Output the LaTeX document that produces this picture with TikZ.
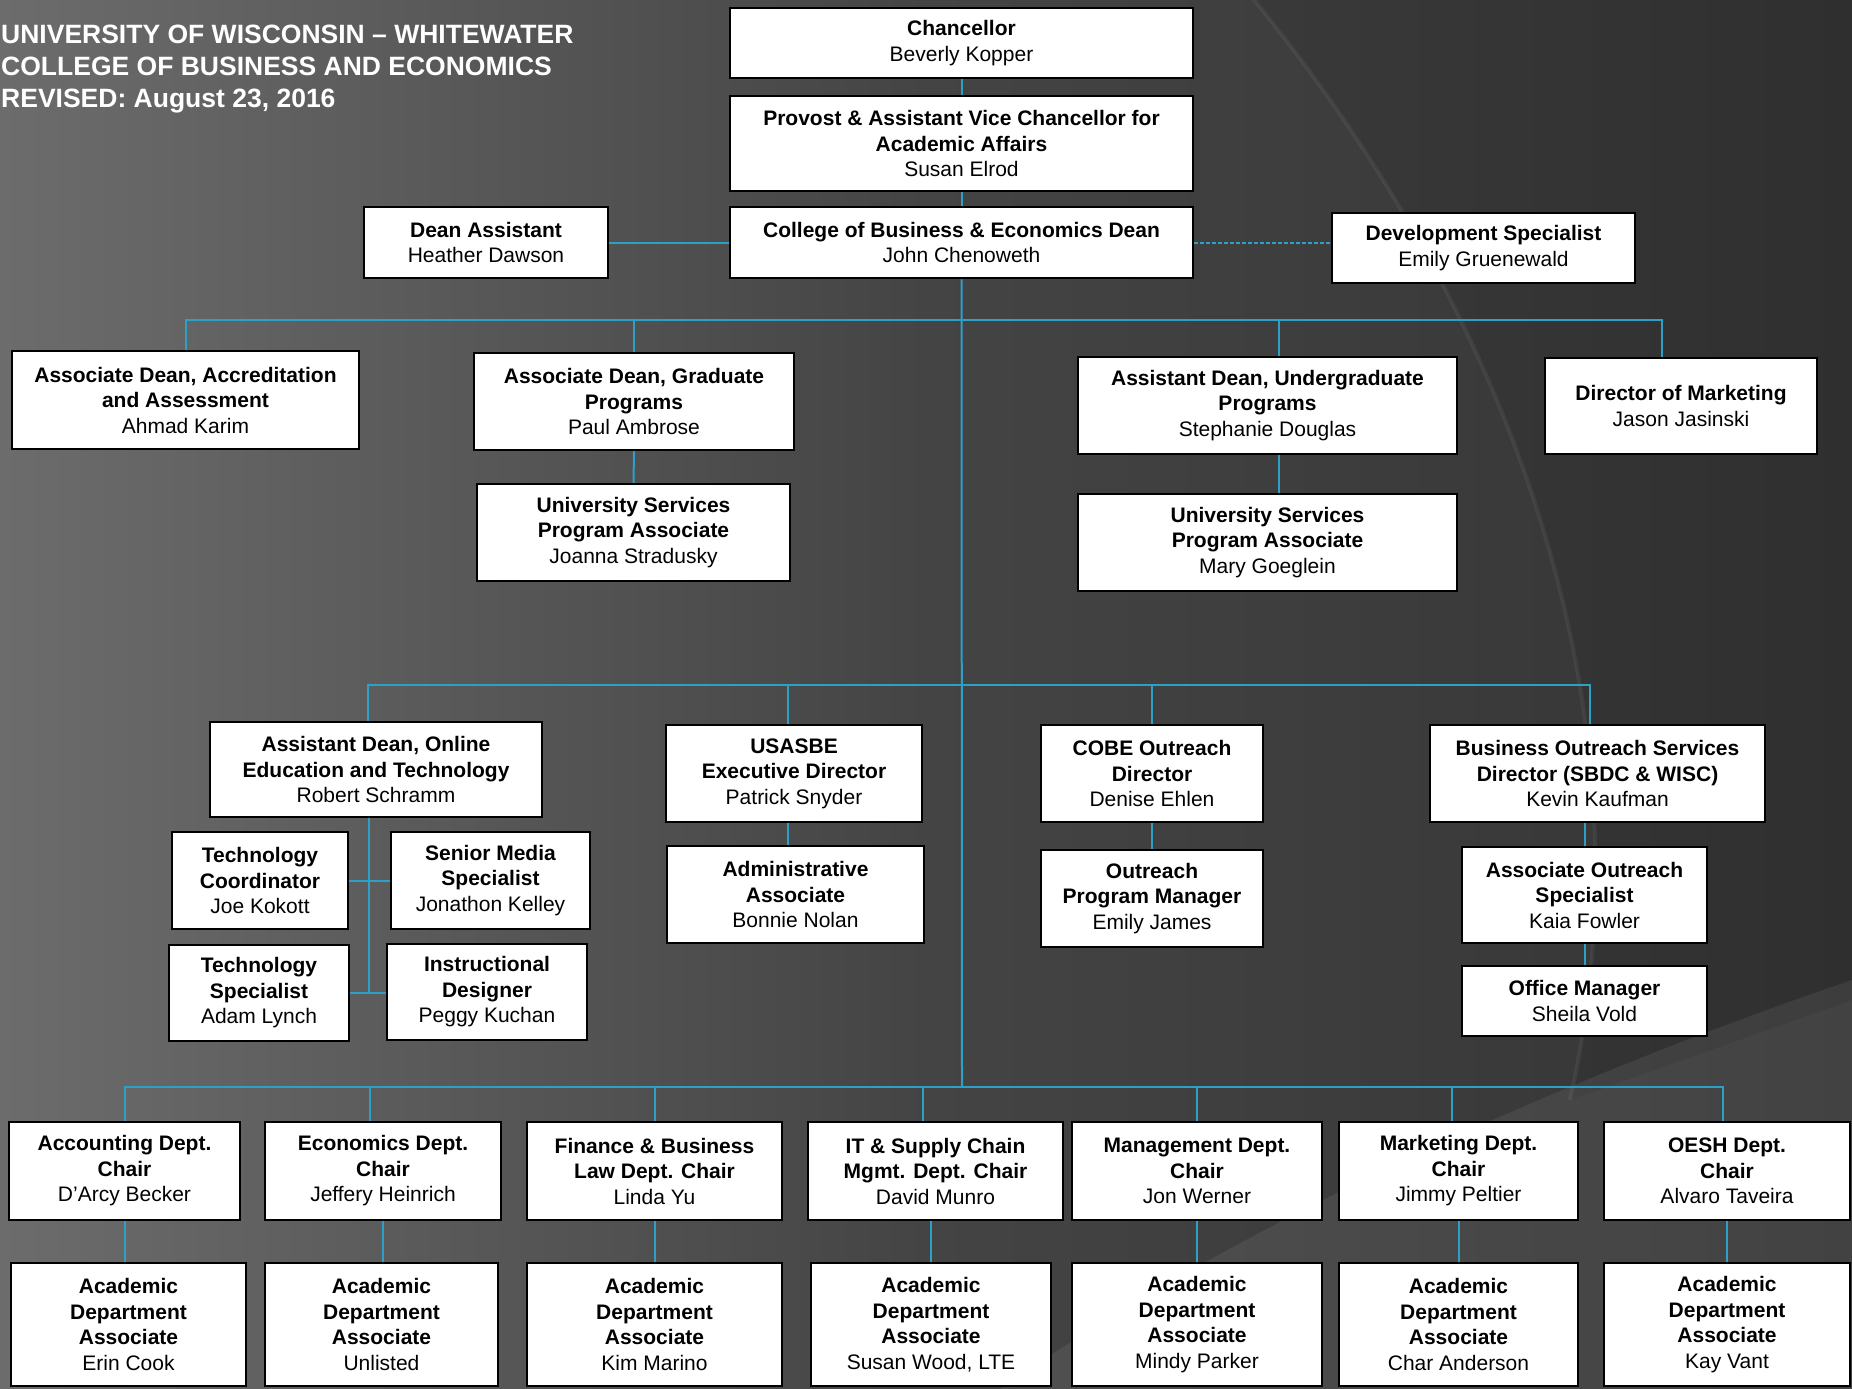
\documentclass[tikz,border=0pt]{standalone}
\usepackage{fontspec}
\setmainfont{Liberation Sans}
\usepackage{tikz}
\usepackage{xcolor}
\definecolor{cbline}{RGB}{45,160,200}
\definecolor{cbbgleft}{RGB}{108,108,108}
\definecolor{cbbgmid}{RGB}{68,68,68}
\definecolor{cbbgright}{RGB}{52,52,52}
\tikzstyle{post} = [rectangle, draw=black, line width=2.5pt, fill=white, align=center, inner sep=0pt, font=\fontsize{21}{25.5}\selectfont\bfseries]
\tikzstyle{link} = [line width=2pt, color=cbline]
\tikzstyle{dotlink} = [line width=2pt, color=cbline, dash pattern=on 4pt off 2pt]
\tikzset{dims/.style 2 args={minimum width=#1pt, minimum height=#2pt}}

\begin{document}
\begin{tikzpicture}[x=1pt, y=-1pt]
% Background
\fill[left color=cbbgleft, right color=cbbgright, middle color=cbbgmid] (0,0) rectangle (1852,1389);
\useasboundingbox (0,0) rectangle (1852,1389);
\fill[black, opacity=0.08] (1254,0) .. controls (1500,300) and (1660,700) .. (1570,1100) -- (1852,1000) -- (1852,0) -- cycle;
\draw[white, opacity=0.06, line width=4pt] (1254,0) .. controls (1500,300) and (1660,700) .. (1570,1100);
\fill[white, opacity=0.07] (1852,980) .. controls (1500,1100) and (1200,1250) .. (1000,1389) -- (1852,1389) -- cycle;

\node (title) [anchor=north west, align=left, inner sep=0pt, text=white, font=\fontsize{26.5}{32}\selectfont\bfseries] at (1,24.5) {UNIVERSITY OF WISCONSIN – WHITEWATER\\COLLEGE OF BUSINESS AND ECONOMICS\\REVISED: August 23, 2016};

% Top of the chart
\node (chanc) [post, dims={463}{70}] at (961.5,43) {Chancellor\\\mdseries Beverly Kopper};
\node (provost) [post, dims={463}{95}] at (961.5,143.5) {Provost \& Assistant Vice Chancellor for\\Academic Affairs\\\mdseries Susan Elrod};
\node (dean) [post, dims={463}{71}] at (961.5,242.5) {College of Business \& Economics Dean\\\mdseries John Chenoweth};
\node (deanasst) [post, dims={244}{71}] at (486,242.5) {Dean Assistant\\\mdseries Heather Dawson};
\node (devspec) [post, dims={303}{70}] at (1483.5,248) {Development Specialist\\\mdseries Emily Gruenewald};

% Deans and marketing
\node (accred) [post, dims={347}{98}] at (185.5,400) {Associate Dean, Accreditation\\and Assessment\\\mdseries Ahmad Karim};
\node (grad) [post, dims={320}{97}] at (634,401.5) {Associate Dean, Graduate\\Programs\\\mdseries Paul Ambrose};
\node (gradpa) [post, dims={313}{97}] at (633.5,532.5) {University Services\\Program Associate\\\mdseries Joanna Stradusky};
\node (ugrad) [post, dims={379}{97}] at (1267.5,405.5) {Assistant Dean, Undergraduate\\Programs\\\mdseries Stephanie Douglas};
\node (ugradpa) [post, dims={379}{97}] at (1267.5,542.5) {University Services\\Program Associate\\\mdseries Mary Goeglein};
\node (mktdir) [post, dims={272}{96}] at (1681,406) {Director of Marketing\\\mdseries Jason Jasinski};

% Online, centers and outreach
\node (online) [post, dims={332}{95}] at (376,769.5) {Assistant Dean, Online\\Education and Technology\\\mdseries Robert Schramm};
\node (techco) [post, dims={176}{97}] at (260,880.5) {Technology\\Coordinator\\\mdseries Joe Kokott};
\node (media) [post, dims={199}{97}] at (490.5,880.5) {Senior Media\\Specialist\\\mdseries Jonathon Kelley};
\node (techsp) [post, dims={180}{96}] at (259,993) {Technology\\Specialist\\\mdseries Adam Lynch};
\node (instr) [post, dims={200}{96}] at (487,992) {Instructional\\Designer\\\mdseries Peggy Kuchan};
\node (usasbe) [post, dims={256}{97}] at (794,773.5) {USASBE\\Executive Director\\\mdseries Patrick Snyder};
\node (admin) [post, dims={257}{97}] at (795.5,894.5) {Administrative\\Associate\\\mdseries Bonnie Nolan};
\node (cobe) [post, dims={222}{97}] at (1152,773.5) {COBE Outreach\\Director\\\mdseries Denise Ehlen};
\node (outpm) [post, dims={222}{97}] at (1152,898.5) {Outreach\\Program Manager\\\mdseries Emily James};
\node (bos) [post, dims={335}{97}] at (1597.5,773.5) {Business Outreach Services\\Director (SBDC \& WISC)\\\mdseries Kevin Kaufman};
\node (aos) [post, dims={245}{96}] at (1584.5,895) {Associate Outreach\\Specialist\\\mdseries Kaia Fowler};
\node (office) [post, dims={245}{70}] at (1584.5,1001) {Office Manager\\\mdseries Sheila Vold};

% Department chairs
\node (acct) [post, dims={231}{98}] at (124.5,1171) {Accounting Dept.\\Chair\\\mdseries D’Arcy Becker};
\node (econ) [post, dims={236}{98}] at (383,1171) {Economics Dept.\\Chair\\\mdseries Jeffery Heinrich};
\node (fin) [post, dims={255}{98}] at (654.5,1171) {Finance \& Business\\Law Dept. Chair\\\mdseries Linda Yu};
\node (itsc) [post, dims={255}{98}] at (935.5,1171) {IT \& Supply Chain\\Mgmt. Dept. Chair\\\mdseries David Munro};
\node (mgmt) [post, dims={250}{98}] at (1197,1171) {Management Dept.\\Chair\\\mdseries Jon Werner};
\node (mkt) [post, dims={239}{98}] at (1458.5,1171) {Marketing Dept.\\Chair\\\mdseries Jimmy Peltier};
\node (oesh) [post, dims={246}{98}] at (1727,1171) {OESH Dept.\\Chair\\\mdseries Alvaro Taveira};

% Department associates
\node (acctA) [post, dims={235}{123}] at (128.5,1324.5) {Academic\\Department\\Associate\\\mdseries Erin Cook};
\node (econA) [post, dims={233}{123}] at (381.5,1324.5) {Academic\\Department\\Associate\\\mdseries Unlisted};
\node (finA) [post, dims={255}{123}] at (654.5,1324.5) {Academic\\Department\\Associate\\\mdseries Kim Marino};
\node (itscA) [post, dims={240}{123}] at (931,1324.5) {Academic\\Department\\Associate\\\mdseries Susan Wood, LTE};
\node (mgmtA) [post, dims={250}{123}] at (1197,1324.5) {Academic\\Department\\Associate\\\mdseries Mindy Parker};
\node (mktA) [post, dims={239}{123}] at (1458.5,1324.5) {Academic\\Department\\Associate\\\mdseries Char Anderson};
\node (oeshA) [post, dims={246}{123}] at (1727,1324.5) {Academic\\Department\\Associate\\\mdseries Kay Vant};

% Connectors
\coordinate (bus1) at (962,320);
\coordinate (bus2) at (962,685);
\coordinate (bus3) at (962,1087);
\draw[link] (chanc.south) -- (provost.north);
\draw[link] (provost.south) -- (dean.north);
\draw[link] (deanasst.east) -- (dean.west);
\draw[dotlink] (dean.east) -- (dean.east -| devspec.west);
\draw[link] (dean.south) -- (bus3);

\draw[link] (accred.north) |- (bus1);
\draw[link] (grad.north) |- (bus1);
\draw[link] ([xshift=11pt]ugrad.north) |- (bus1);
\draw[link] ([xshift=-19pt]mktdir.north) |- (bus1);
\draw[link] (grad.south) -- (gradpa.north);
\draw[link] ([xshift=11pt]ugrad.south) -- ([xshift=11pt]ugradpa.north);

\draw[link] ([xshift=-8pt]online.north) |- (bus2);
\draw[link] ([xshift=-6pt]usasbe.north) |- (bus2);
\draw[link] (cobe.north) |- (bus2);
\draw[link] ([xshift=-8pt]bos.north) |- (bus2);
\draw[link] ([xshift=-7pt]online.south) |- (techsp.east);
\draw[link] (techsp.east) -- (techsp.east -| instr.west);
\draw[link] (techco.east) -- (media.west);
\draw[link] ([xshift=-6pt]usasbe.south) -- ([xshift=-6pt]usasbe.south |- admin.north);
\draw[link] (cobe.south) -- (outpm.north);
\draw[link] (bos.south -| aos.north) -- (aos.north);
\draw[link] (aos.south) -- (office.north);

\draw[link] (acct.north) |- (bus3);
\draw[link] ([xshift=-13pt]econ.north) |- (bus3);
\draw[link] (fin.north) |- (bus3);
\draw[link] ([xshift=-13pt]itsc.north) |- (bus3);
\draw[link] (mgmt.north) |- (bus3);
\draw[link] ([xshift=-7pt]mkt.north) |- (bus3);
\draw[link] ([xshift=-4pt]oesh.north) |- (bus3);

\draw[link] (acct.south) -- (acct.south |- acctA.north);
\draw[link] (econ.south) -- (econ.south |- econA.north);
\draw[link] (fin.south) -- (finA.north);
\draw[link] (itscA.north |- itsc.south) -- (itscA.north);
\draw[link] (mgmt.south) -- (mgmtA.north);
\draw[link] (mkt.south) -- (mktA.north);
\draw[link] (oesh.south) -- (oeshA.north);
\end{tikzpicture}
\end{document}
